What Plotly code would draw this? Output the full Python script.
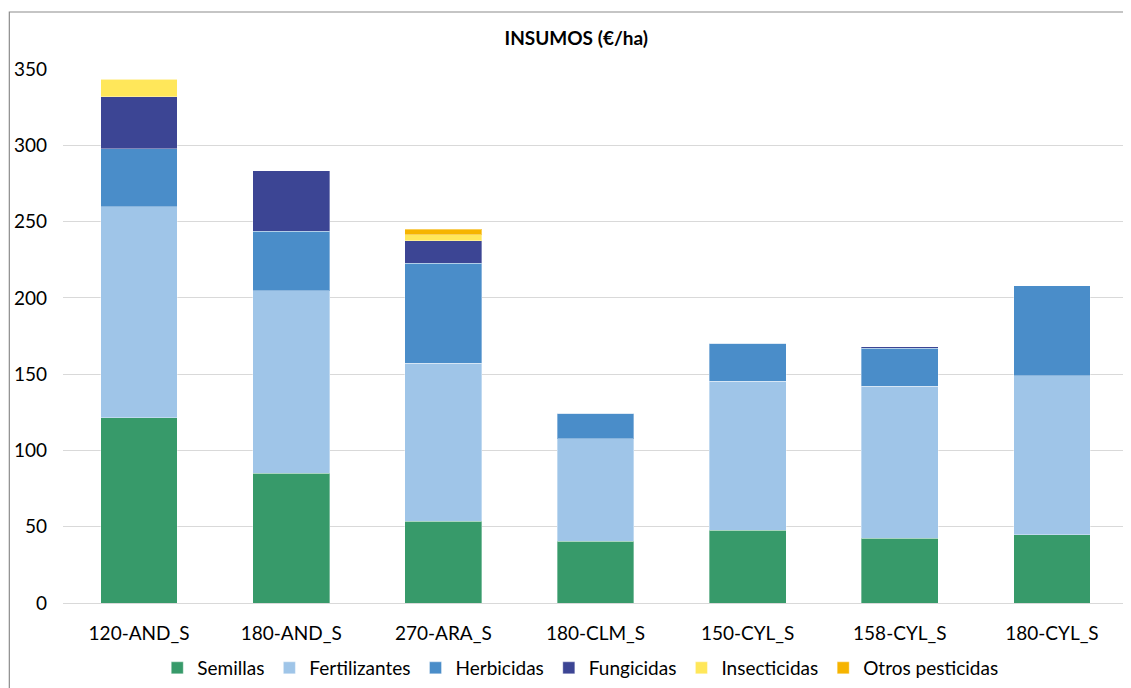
import plotly.graph_objects as go

categories = ["120-AND_S", "180-AND_S", "270-ARA_S", "180-CLM_S", "150-CYL_S", "158-CYL_S", "180-CYL_S"]
semillas = [121.3, 85.2, 53.7, 40.6, 47.8, 42.6, 44.6]
fertilizantes = [138.3, 119.3, 103.6, 66.9, 97.7, 99.6, 104.2]
herbicidas = [38.0, 39.3, 65.4, 17.0, 24.9, 24.9, 59.0]
fungicidas = [34.1, 39.4, 14.6, 0, 0, 0.7, 0]
insecticidas = [11.7, 0, 4.1, 0, 0, 0, 0]
otros_pesticidas = [0, 0, 3.7, 0, 0, 0, 0]

series = [
    ("Semillas", semillas, "#379A6A"),
    ("Fertilizantes", fertilizantes, "#9FC5E8"),
    ("Herbicidas", herbicidas, "#4A8DC9"),
    ("Fungicidas", fungicidas, "#3C4594"),
    ("Insecticidas", insecticidas, "#FFE75A"),
    ("Otros pesticidas", otros_pesticidas, "#F6B400"),
]

FONT = "Lato, Carlito, Calibri, sans-serif"
FS = 19

fig = go.Figure()
for name, vals, color in series:
    fig.add_trace(go.Bar(
        x=categories, y=vals, name=name,
        marker=dict(color=color, line=dict(color="rgba(255,255,255,0.35)", width=1)),
    ))

# page body has an 8px margin; figure coordinates are offset by that
W, H = 1123, 680
plot_left, plot_right_px, plot_top, plot_bottom = 54.5, 1120, 61, 595
pw = plot_right_px - plot_left
ph = plot_bottom - plot_top

fig.update_layout(
    width=W, height=H,
    barmode="stack",
    bargap=0.495,
    paper_bgcolor="white",
    plot_bgcolor="white",
    margin=dict(l=plot_left, r=W - plot_right_px, t=plot_top, b=H - plot_bottom, pad=0, autoexpand=False),
    title=dict(text="<b>INSUMOS (€/ha)</b>", x=(568 - plot_left) / pw, xref="paper", xanchor="center",
               y=1 - 30 / H, yanchor="middle",
               font=dict(family=FONT, size=FS, color="#000000")),
    font=dict(family=FONT, size=FS, color="#000000"),
    xaxis=dict(showgrid=False, showline=False, ticks="", tickfont=dict(size=FS, color="#000000"),
               ticklabelstandoff=17),
    yaxis=dict(range=[0, 350], dtick=50, showgrid=True, gridcolor="#D9D9D9", gridwidth=1,
               zeroline=True, zerolinecolor="#D9D9D9", zerolinewidth=1,
               showline=False, ticks="", tickfont=dict(size=FS, color="#000000"),
               ticklabelstandoff=15),
    legend=dict(orientation="h", x=(572 - plot_left) / pw, xanchor="center",
                y=-(660 - plot_bottom) / ph, yanchor="middle",
                font=dict(size=FS, color="#000000"), traceorder="normal",
                itemwidth=30, bgcolor="rgba(0,0,0,0)"),
    showlegend=True,
)

# chart border frame
fig.add_shape(type="rect", xref="paper", yref="paper",
              x0=(0.8 - plot_left) / pw, x1=(W + 20 - plot_left) / pw,
              y0=-(H + 20 - plot_bottom) / ph, y1=(plot_bottom - 4) / ph,
              line=dict(color="#8C8C8C", width=1.2), fillcolor="rgba(0,0,0,0)", layer="below")

fig.write_html("out.html")
